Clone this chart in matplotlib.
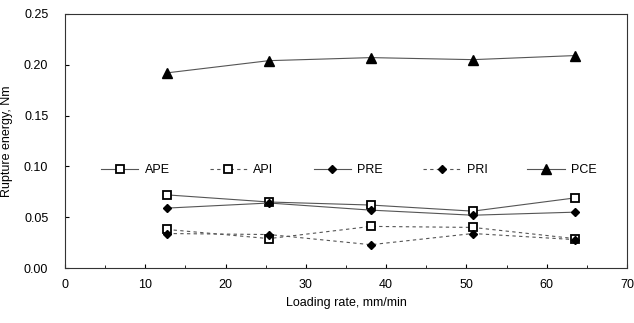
import matplotlib
matplotlib.use('Agg')
import matplotlib.pyplot as plt
from matplotlib.ticker import MultipleLocator

plt.rcParams['font.family'] = ['Liberation Sans', 'DejaVu Sans']

# Loading rate, mm/min
loading_rate = [12.7, 25.4, 38.1, 50.8, 63.5]

# Rupture energy, Nm
ape = [0.072, 0.065, 0.062, 0.056, 0.069]
api = [0.038, 0.029, 0.041, 0.040, 0.029]
pre = [0.059, 0.064, 0.057, 0.052, 0.055]
pri = [0.034, 0.033, 0.023, 0.034, 0.028]
pce = [0.192, 0.204, 0.207, 0.205, 0.209]

fig = plt.figure(figsize=(6.34, 3.23), dpi=100)
ax = fig.add_axes([0.1025, 0.170, 0.8865, 0.787])

lc = '#555555'
ax.plot(loading_rate, ape, '-', color=lc, lw=0.8, marker='s', ms=5.5,
        mfc='white', mec='black', mew=1.3, label='APE')
ax.plot(loading_rate, api, '--', color=lc, lw=0.8, marker='s', ms=5.5,
        mfc='white', mec='black', mew=1.3, label='API', dashes=(3, 3))
ax.plot(loading_rate, pre, '-', color=lc, lw=0.8, marker='D', ms=4.5,
        mfc='black', mec='black', label='PRE')
ax.plot(loading_rate, pri, '--', color=lc, lw=0.8, marker='D', ms=4.5,
        mfc='black', mec='black', label='PRI', dashes=(3, 3))
ax.plot(loading_rate, pce, '-', color=lc, lw=0.8, marker='^', ms=6.5,
        mfc='black', mec='black', label='PCE')

ax.set_xlim(0, 70)
ax.set_ylim(0, 0.25)
ax.xaxis.set_major_locator(MultipleLocator(10))
ax.xaxis.set_minor_locator(MultipleLocator(5))
ax.yaxis.set_major_locator(MultipleLocator(0.05))
ax.yaxis.set_major_formatter(plt.FormatStrFormatter('%.2f'))
ax.tick_params(direction='in', length=3, labelsize=9, colors='black')
ax.tick_params(which='minor', direction='in', length=2)
ax.tick_params(axis='x', pad=8)
ax.tick_params(axis='y', pad=12)

for s in ax.spines.values():
    s.set_linewidth(0.8)
    s.set_color('#333333')

ax.set_xlabel('Loading rate, mm/min', fontsize=9)
ax.set_ylabel('Rupture energy, Nm', fontsize=9, labelpad=8)

ax.legend(loc='center', bbox_to_anchor=(0.505, 0.386), ncol=5, frameon=False,
          fontsize=9, handlelength=3.0, columnspacing=3.2, handletextpad=0.5)

fig.savefig('out.png', dpi=100)
